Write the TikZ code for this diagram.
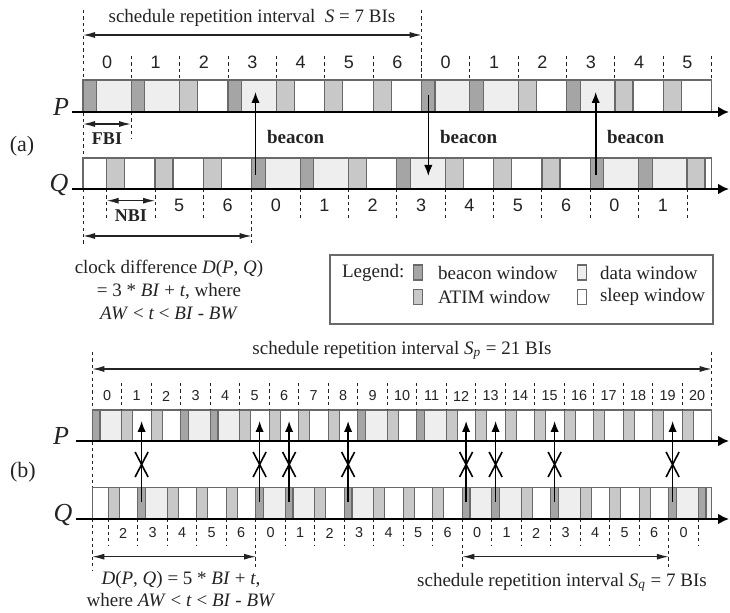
\documentclass[tikz,border=0pt]{standalone}
\usepackage{fontspec}
\setmainfont{Liberation Serif}
\newfontfamily\numfont{Liberation Sans}
\usetikzlibrary{arrows.meta,positioning}
\definecolor{bwgray}{RGB}{165,165,165}
\definecolor{awgray}{RGB}{200,200,200}
\definecolor{dwgray}{RGB}{238,238,238}
\definecolor{edgegray}{RGB}{105,105,105}
\definecolor{inkgray}{RGB}{35,35,35}
\tikzset{
    win/.style={draw=edgegray,line width=0.6pt,fill=#1},
    win/.default=white,
    axis/.style={-{Latex[length=5.5pt,width=5.5pt]},line width=1.3pt,draw=black},
    dim/.style={
        {Latex[length=6pt,width=3pt]}-{Latex[length=6pt,width=3pt]},
        line width=0.6pt,draw=inkgray
    },
    tick/.style={draw=inkgray,line width=0.5pt,dash pattern=on 1.6pt off 1.6pt},
    beaconarrow/.style={-{Latex[length=5.5pt,width=4.2pt]},line width=0.8pt,draw=black},
    cross/.style={line width=0.8pt,draw=black},
    numa/.style={font=\numfont\fontsize{9}{10}\selectfont,text=inkgray},
    numb/.style={font=\numfont\fontsize{7.2}{8}\selectfont,text=inkgray},
    txt/.style={font=\fontsize{9.5}{11.3}\selectfont,text=inkgray,align=center},
    boldtxt/.style={font=\fontsize{9.5}{11}\selectfont\bfseries,text=inkgray},
    agent/.style={font=\fontsize{13}{14}\selectfont\itshape,text=inkgray},
    part/.style={font=\fontsize{11}{12}\selectfont,text=inkgray},
    swatch/.style={
        draw=edgegray,line width=0.6pt,fill=#1,
        minimum width=4.5pt,minimum height=7.5pt,inner sep=0pt
    },
    swatch/.default=white
}

\begin{document}
\begin{tikzpicture}[x=0.5pt,y=-0.5pt]
\useasboundingbox (0,0) rectangle (730,613);

%%% (a) -------------------------------------------------------------
\draw[tick] (83,10) -- (83,245);
\draw[tick] (421.7,10) -- (421.7,80);
\draw[tick] (131,112) -- (131,138);
\draw[tick] (711.7,56) -- (711.7,80);

% P, S = 7
\foreach \k in {0,...,12}{
  \pgfmathsetmacro\xs{83+\k*48.36}
  \pgfmathtruncatemacro\lab{mod(\k,7)}
  \pgfmathtruncatemacro\isq{(\lab==0)||(\lab==1)||(\lab==3)}
  \ifnum\isq=1
    \draw[win=bwgray] (\xs,80) rectangle ++(13.5,32);
    \draw[win=dwgray] (\xs+13.5,80) rectangle ++(34.86,32);
  \else
    \draw[win=awgray] (\xs,80) rectangle ++(18,32);
    \draw[win=white] (\xs+18,80) rectangle ++(30.36,32);
  \fi
  \node[numa] (pa\k) at (\xs+24.18,62) {\lab};
  \ifnum\k>0 \draw[tick] (\xs,56) -- (\xs,80); \fi
}

% Q, S = 7, shifted by 3 BI + t
\begin{scope}
  \clip (83,150) rectangle (711.7,195);
  \draw[win=white] (83,158) rectangle (106.7,189);
  \foreach \k in {0,...,12}{
    \pgfmathsetmacro\xs{106.7+\k*48.36}
    \pgfmathtruncatemacro\lab{mod(\k+4,7)}
    \pgfmathtruncatemacro\isq{(\lab==0)||(\lab==1)||(\lab==3)}
    \ifnum\isq=1
      \draw[win=bwgray] (\xs,158) rectangle ++(13.5,31);
      \draw[win=dwgray] (\xs+13.5,158) rectangle ++(34.86,31);
    \else
      \draw[win=awgray] (\xs,158) rectangle ++(18,31);
      \draw[win=white] (\xs+18,158) rectangle ++(30.36,31);
    \fi
  }
\end{scope}
\draw[draw=edgegray,line width=0.6pt] (83,158) rectangle (711.7,189);
\foreach \k in {0,...,12}{
  \pgfmathsetmacro\xs{106.7+\k*48.36}
  \pgfmathtruncatemacro\lab{mod(\k+4,7)}
  \ifnum\k=3 \draw[tick] (\xs,189) -- (\xs,243);
  \else \draw[tick] (\xs,189) -- (\xs,218); \fi
  \ifnum\k>0 \ifnum\k<12
    \node[numa] (qa\k) at (\xs+24.18,205) {\lab};
  \fi\fi
}

\coordinate (Pas) at (72,112);
\coordinate (Pae) at (729,112);
\coordinate (Qas) at (72,189);
\coordinate (Qae) at (729,189);
\draw[axis] (Pas) -- (Pae);
\draw[axis] (Qas) -- (Qae);
\node[agent] (labPa) at (61,107) {P};
\node[agent] (labQa) at (59,185) {Q};
\node[part] (parta) at (22,146) {(a)};

% beacons
\coordinate (qbc1) at (255.5,175);
\coordinate (pbc1) at (255.5,92);
\coordinate (pbc2) at (428.3,95);
\coordinate (qbc2) at (428.3,176);
\coordinate (qbc3) at (595.7,175);
\coordinate (pbc3) at (595.7,92);
\draw[beaconarrow] (qbc1) -- (pbc1);
\draw[beaconarrow] (pbc2) -- (qbc2);
\draw[beaconarrow] (qbc3) -- (pbc3);
\node[boldtxt,anchor=west] (bcn1) at (260,137) {beacon};
\node[boldtxt,anchor=west] (bcn2) at (433,137) {beacon};
\node[boldtxt,anchor=west] (bcn3) at (600,137) {beacon};

% intervals
\coordinate (sa1) at (83,35);
\coordinate (sa2) at (421.7,35);
\draw[dim] (sa1) -- (sa2);
\node[txt] (sched) at (252,18)
  {schedule repetition interval\enspace\textit{S} = 7 BIs};
\coordinate (fbi1) at (83,124);
\coordinate (fbi2) at (131,124);
\draw[dim] (fbi1) -- (fbi2);
\node[boldtxt,font=\fontsize{9}{10}\selectfont\bfseries] (fbi) at (107,139) {FBI};
\coordinate (nbi1) at (106.7,200.7);
\coordinate (nbi2) at (155,200.7);
\draw[dim] (nbi1) -- (nbi2);
\node[boldtxt,font=\fontsize{9}{10}\selectfont\bfseries] (nbi) at (131,216) {NBI};
\coordinate (da1) at (83,236);
\coordinate (da2) at (251.7,236);
\draw[dim] (da1) -- (da2);
\node[txt] (dtexta) at (169,290)
  {clock difference \textit{D}(\textit{P}, \textit{Q})\\
   = 3 * \textit{BI} + \textit{t}, where\\
   \textit{AW} < \textit{t} < \textit{BI} - \textit{BW}};

% legend
\node[draw=edgegray,line width=0.7pt,minimum width=191.5pt,minimum height=34.5pt]
  (legend) at (521.5,289.5) {};
\node[txt,anchor=west] (lgd) at (335,273) {Legend:};
\node[swatch=bwgray] (swb) at (418,272.5) {};
\node[swatch=awgray] (swa) at (418,297) {};
\node[swatch=dwgray] (swd) at (582,272.5) {};
\node[swatch] (sws) at (582,297) {};
\node[txt,anchor=west] (lgb) at (431,273) {beacon window};
\node[txt,anchor=west] (lga) at (431,297) {ATIM window};
\node[txt,anchor=west] (lgdw) at (593,273) {data window};
\node[txt,anchor=west] (lgs) at (593,297) {sleep window};

%%% (b) -------------------------------------------------------------
\draw[tick] (92.3,352) -- (92.3,570);
\draw[tick] (711.7,352) -- (711.7,410);

% P, S_p = 21
\foreach \k in {0,...,20}{
  \pgfmathsetmacro\xs{92.3+\k*29.5}
  \pgfmathtruncatemacro\isq{(\k==0)||(\k==3)||(\k==4)||(\k==9)||(\k==11)}
  \ifnum\isq=1
    \draw[win=bwgray] (\xs,410) rectangle ++(7.7,31);
    \draw[win=dwgray] (\xs+7.7,410) rectangle ++(21.8,31);
  \else
    \draw[win=awgray] (\xs,410) rectangle ++(11,31);
    \draw[win=white] (\xs+11,410) rectangle ++(18.5,31);
  \fi
  \node[numb] (pb\k) at (\xs+14.75,396) {\k};
  \ifnum\k>0 \draw[tick] (\xs,383) -- (\xs,410); \fi
}

% Q, S_q = 7, shifted by 5 BI + t
\begin{scope}
  \clip (92.3,480) rectangle (711.7,525);
  \draw[win=white] (92.3,487.7) rectangle (108.3,519);
  \foreach \k in {0,...,20}{
    \pgfmathsetmacro\xs{108.3+\k*29.5}
    \pgfmathtruncatemacro\lab{mod(\k+2,7)}
    \pgfmathtruncatemacro\isq{(\lab==0)||(\lab==1)||(\lab==3)}
    \ifnum\isq=1
      \draw[win=bwgray] (\xs,487.7) rectangle ++(7.7,31.3);
      \draw[win=dwgray] (\xs+7.7,487.7) rectangle ++(21.8,31.3);
    \else
      \draw[win=awgray] (\xs,487.7) rectangle ++(11,31.3);
      \draw[win=white] (\xs+11,487.7) rectangle ++(18.5,31.3);
    \fi
  }
\end{scope}
\draw[draw=edgegray,line width=0.6pt] (92.3,487.7) rectangle (711.7,519);
\foreach \k in {0,...,20}{
  \pgfmathsetmacro\xs{108.3+\k*29.5}
  \pgfmathtruncatemacro\lab{mod(\k+2,7)}
  \pgfmathtruncatemacro\islong{(\k==5)||(\k==12)||(\k==19)}
  \ifnum\islong=1 \draw[tick] (\xs,519) -- (\xs,569);
  \else \draw[tick] (\xs,519) -- (\xs,545); \fi
  \ifnum\k<20 \node[numb] (qb\k) at (\xs+14.75,533) {\lab}; \fi
}

\coordinate (Pbs) at (76,441);
\coordinate (Pbe) at (729,441);
\coordinate (Qbs) at (76,519);
\coordinate (Qbe) at (729,519);
\draw[axis] (Pbs) -- (Pbe);
\draw[axis] (Qbs) -- (Qbe);
\node[agent] (labPb) at (61,436) {P};
\node[agent] (labQb) at (63,515) {Q};
\node[part] (partb) at (23,472) {(b)};

% beacons of Q that P misses
\foreach \k in {1,5,6,8,12,13,15,19}{
  \pgfmathsetmacro\xb{112.1+\k*29.5}
  \coordinate (qbb\k) at (\xb,502);
  \coordinate (pbb\k) at (\xb,421);
  \draw[beaconarrow] (qbb\k) -- (pbb\k);
  \draw[cross] (\xb-6.5,452) -- (\xb+6.5,477) (\xb+6.5,452) -- (\xb-6.5,477);
}

% intervals
\coordinate (sp1) at (92.3,369);
\coordinate (sp2) at (711.7,369);
\draw[dim] (sp1) -- (sp2);
\node[txt] (schedp) at (402,350)
  {schedule repetition interval \textit{S}\textsubscript{\textit{p}} = 21 BIs};
\coordinate (db1) at (92.3,556.7);
\coordinate (db2) at (256,556.7);
\draw[dim] (db1) -- (db2);
\node[txt] (dtextb) at (181,589)
  {\textit{D}(\textit{P}, \textit{Q}) = 5 * \textit{BI} + \textit{t},\\
   where \textit{AW} < \textit{t} < \textit{BI} - \textit{BW}};
\coordinate (sq1) at (462.3,556.7);
\coordinate (sq2) at (668.8,556.7);
\draw[dim] (sq1) -- (sq2);
\node[txt] (schedq) at (562,582)
  {schedule repetition interval \textit{S}\textsubscript{\textit{q}} = 7 BIs};

\end{tikzpicture}
\end{document}
